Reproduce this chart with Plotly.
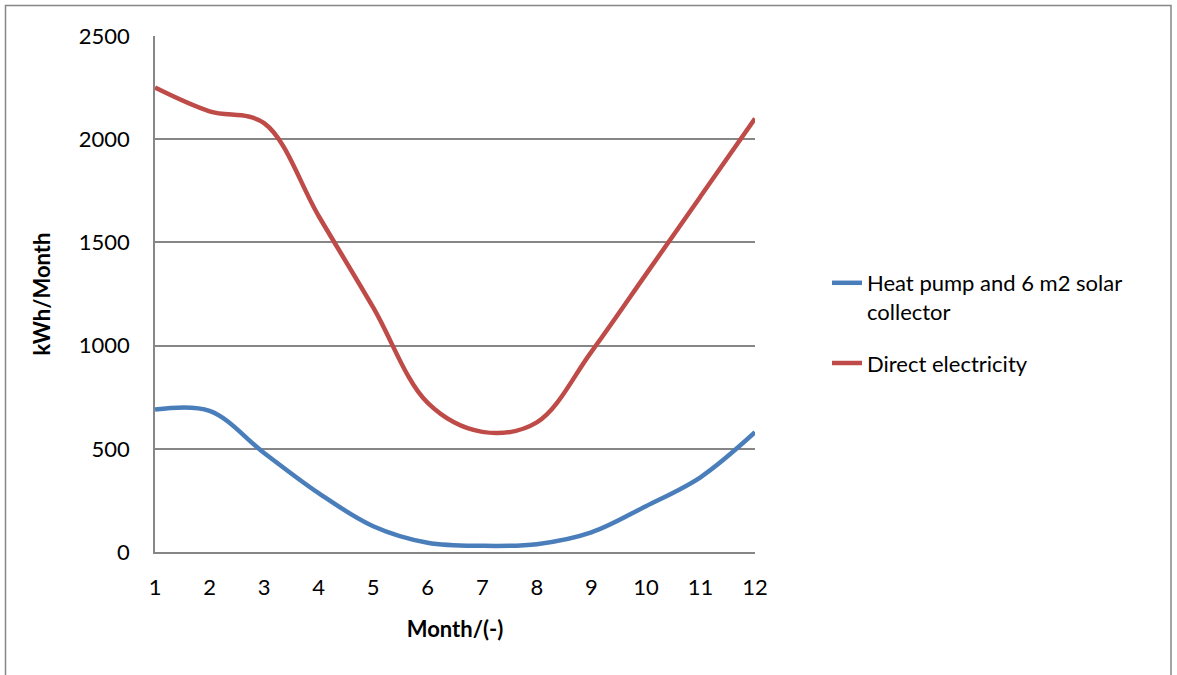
import plotly.graph_objects as go

months = [1, 2, 3, 4, 5, 6, 7, 8, 9, 10, 11, 12]
heat_pump = [690, 684, 480, 285, 125, 45, 30, 38, 95, 222, 362, 580]
direct_el = [2250, 2135, 2078, 1628, 1185, 722, 582, 628, 970, 1345, 1722, 2100]
series_names = ["Heat pump and 6 m2 solar<br>collector", "Direct electricity"]
y_ticks = [0, 500, 1000, 1500, 2000, 2500]

W, H = 1177, 675
L, R, T, B = 155, 422, 36, 123
pw = W - L - R
ph = H - T - B

font = "Lato, 'Open Sans', sans-serif"
grid = "#868686"

fig = go.Figure()
fig.add_trace(go.Scatter(x=months, y=heat_pump, mode="lines", name=series_names[0],
                         legendgroup="a",
                         line=dict(color="#4a7ebb", width=4.5, shape="spline", smoothing=1)))
fig.add_trace(go.Scatter(x=months, y=direct_el, mode="lines", name=series_names[1],
                         legendgroup="b",
                         line=dict(color="#be4b48", width=4.5, shape="spline", smoothing=1)))

# outer chart border
fig.add_shape(type="rect", xref="paper", yref="paper",
              x0=(5.5 - L) / pw, x1=(1171 - L) / pw,
              y0=(H - B - 700) / ph, y1=(H - B - 5.5) / ph,
              line=dict(color="#868686", width=1.5), fillcolor="rgba(0,0,0,0)", layer="below")

fig.update_layout(
    width=W, height=H,
    margin=dict(l=L, r=R, t=T, b=B),
    paper_bgcolor="white", plot_bgcolor="white",
    font=dict(family=font, size=22, color="black"),
    showlegend=True,
    legend=dict(x=(827 - L) / pw, y=(H - B - 262) / ph, xanchor="left", yanchor="top",
                font=dict(size=22, family=font), traceorder="grouped", tracegroupgap=20,
                valign="top", bgcolor="rgba(0,0,0,0)"),
    xaxis=dict(range=[1, 12], tickvals=months, ticktext=[str(m) for m in months],
               showgrid=False, zeroline=False, showline=True, linecolor=grid, linewidth=1.5,
               ticks="", ticklabelstandoff=15,
               title=dict(text="<b>Month/(-)</b>", font=dict(size=22, family=font), standoff=22)),
    yaxis=dict(range=[0, 2500], tickvals=y_ticks, showgrid=True, gridcolor=grid, gridwidth=1.5,
               zeroline=False, showline=True, linecolor=grid, linewidth=1.5,
               ticks="", ticklabelstandoff=19,
               title=dict(text="<b>kWh/Month</b>", font=dict(size=22, family=font), standoff=22)),
)

fig.write_html("out.html")
